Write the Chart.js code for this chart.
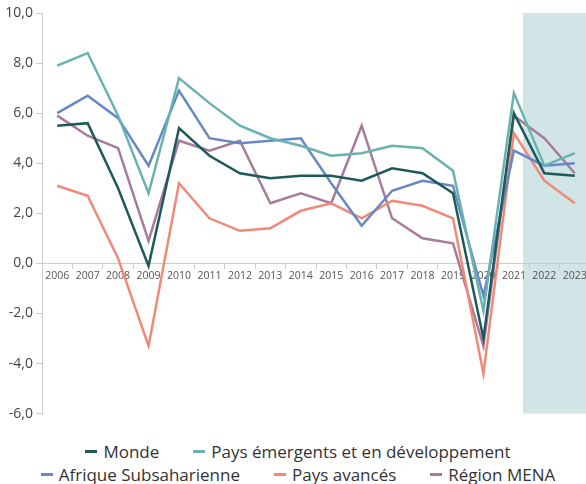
<!DOCTYPE html>
<html>
<head>
<meta charset="utf-8">
<script src="https://cdn.jsdelivr.net/npm/chart.js@4/dist/chart.umd.min.js"></script>
<style>
  body { margin: 0; width: 586px; height: 484px; overflow: hidden; background: #fff; font-family: "Open Sans", sans-serif; }
  #wrap { position: absolute; left: 0; top: 0; width: 590px; height: 425px; }
  #legend { position: absolute; left: 10px; top: 440px; width: 576px; font-size: 17px; line-height: 23px; color: #333; }
  .row { display: flex; justify-content: center; white-space: nowrap; }
  .item { display: flex; align-items: center; margin: 0 17px; }
  .mark { width: 12px; height: 2.5px; margin-right: 6px; }
</style>
</head>
<body>
<div id="wrap"><canvas id="growthChart"></canvas></div>
<div id="legend"></div>
<script>
(function() {
    "use strict";

var years = ['2006', '2007', '2008', '2009', '2010', '2011', '2012', '2013', '2014',
             '2015', '2016', '2017', '2018', '2019', '2020', '2021', '2022', '2023'];

var monde      = [5.5, 5.6, 3.0, -0.1, 5.4, 4.3, 3.6, 3.4, 3.5, 3.5, 3.3, 3.8, 3.6, 2.8, -3.0, 6.0, 3.6, 3.5];
var emergents  = [7.9, 8.4, 5.9, 2.8, 7.4, 6.4, 5.5, 5.0, 4.7, 4.3, 4.4, 4.7, 4.6, 3.7, -1.9, 6.8, 3.9, 4.4];
var afrique    = [6.0, 6.7, 5.8, 3.9, 6.9, 5.0, 4.8, 4.9, 5.0, 3.2, 1.5, 2.9, 3.3, 3.1, -1.3, 4.5, 3.9, 4.0];
var avances    = [3.1, 2.7, 0.2, -3.3, 3.2, 1.8, 1.3, 1.4, 2.1, 2.4, 1.8, 2.5, 2.3, 1.8, -4.4, 5.2, 3.3, 2.4];
var mena       = [5.9, 5.1, 4.6, 0.9, 4.9, 4.5, 4.9, 2.4, 2.8, 2.4, 5.5, 1.8, 1.0, 0.8, -3.3, 5.9, 5.0, 3.6];

var yTicks = [-6, -4, -2, 0, 2, 4, 6, 8, 10];

// forecast zone starts a bit after the 2021 point
var forecastFrom = 15.3;

var series = [
    { label: 'Monde', data: monde, color: '#1f5a5a' },
    { label: 'Pays émergents et en développement', data: emergents, color: '#6ab2b1' },
    { label: 'Afrique Subsaharienne', data: afrique, color: '#6689c6' },
    { label: 'Pays avancés', data: avances, color: '#ef8978' },
    { label: 'Région MENA', data: mena, color: '#a87b9d' }
];

var legendRows = [[0, 1], [2, 3, 4]];

var forecastBand = {
    id: 'forecastBand',
    beforeDraw: function(chart) {
        var x = chart.scales.x, area = chart.chartArea, c = chart.ctx;
        var i = Math.floor(forecastFrom);
        var step = x.getPixelForValue(i + 1) - x.getPixelForValue(i);
        var left = x.getPixelForValue(i) + (forecastFrom - i) * step;
        c.save();
        c.fillStyle = '#d1e5e7';
        c.fillRect(left, area.top, chart.width - left, area.bottom - area.top);
        c.restore();
    }
};

var ctx = document.getElementById('growthChart');

new Chart(ctx, {
    type: 'line',
    data: {
        labels: years,
        datasets: series.map(function(s) {
            return {
                label: s.label,
                data: s.data,
                borderColor: s.color,
                backgroundColor: s.color,
                borderWidth: 2.5,
                pointRadius: 0,
                tension: 0
            };
        })
    },
    options: {
        responsive: true,
        maintainAspectRatio: false,
        animation: false,
        layout: { padding: { top: 13, bottom: 0, right: 0 } },
        plugins: {
            legend: { display: false },
            tooltip: { enabled: false }
        },
        scales: {
            x: {
                position: { y: 0 },
                offset: true,
                grid: { offset: true, drawOnChartArea: false, tickLength: 5, color: '#cccccc' },
                border: { color: '#cccccc' },
                ticks: { color: '#555', font: { family: 'Open Sans', size: 10.5 }, padding: 1, maxRotation: 0, autoSkip: false }
            },
            y: {
                min: -6,
                max: 10,
                afterBuildTicks: function(s) { s.ticks = yTicks.map(function(v) { return { value: v }; }); },
                afterFit: function(s) { s.width = 42; },
                grid: { drawOnChartArea: false, tickLength: 6, color: '#cccccc' },
                border: { color: '#cccccc' },
                ticks: {
                    color: '#444',
                    font: { family: 'Open Sans', size: 14 },
                    padding: 3,
                    callback: function(v) { return v.toFixed(1).replace('.', ','); }
                }
            }
        }
    },
    plugins: [forecastBand]
});

// legend below the chart
var legend = document.getElementById('legend');
legendRows.forEach(function(row) {
    var div = document.createElement('div');
    div.className = 'row';
    row.forEach(function(k) {
        var item = document.createElement('span');
        item.className = 'item';
        var m = document.createElement('span');
        m.className = 'mark';
        m.style.background = series[k].color;
        item.appendChild(m);
        item.appendChild(document.createTextNode(series[k].label));
        div.appendChild(item);
    });
    legend.appendChild(div);
});

})();
</script>
</body>
</html>
